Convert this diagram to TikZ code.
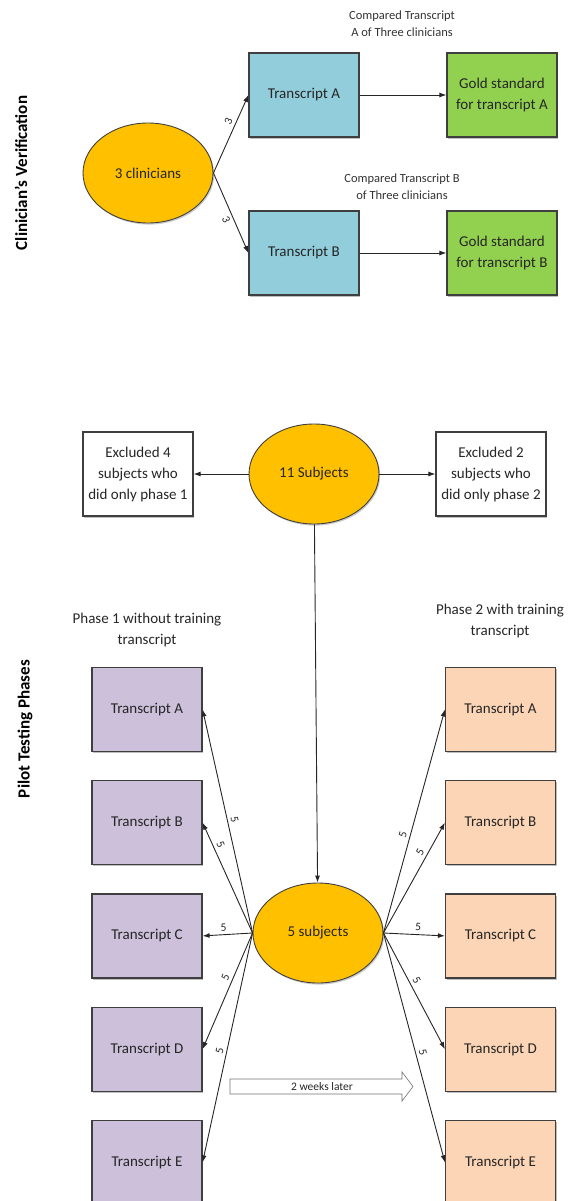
\documentclass[tikz,border=0pt]{standalone}
\usepackage{fontspec}
\setmainfont{Carlito}
\usetikzlibrary{arrows.meta,positioning,shapes.geometric,shadows}
\definecolor{clinGold}{HTML}{FFC000}
\definecolor{trBlue}{HTML}{92CDDC}
\definecolor{goldGreen}{HTML}{92D050}
\definecolor{phOneLilac}{HTML}{CCC0DA}
\definecolor{phTwoPeach}{HTML}{FBD5B5}
\definecolor{edgeGray}{HTML}{3F3F3F}
\definecolor{txtGray}{HTML}{262626}

\begin{document}
\begin{tikzpicture}[x=1pt,y=-1pt,node distance=28pt,
  every node/.style={font=\fontsize{15}{21}\selectfont,text=txtGray},
  box/.style={draw=edgeGray,line width=1.2pt,minimum width=110pt,minimum height=84pt,align=center,inner sep=2pt,
    drop shadow={shadow xshift=1.2pt,shadow yshift=-1.6pt,fill=black,opacity=0.25}},
  blob/.style={ellipse,draw=edgeGray,line width=0.9pt,fill=clinGold,minimum width=130pt,minimum height=100pt,inner sep=0pt,
    drop shadow={shadow xshift=1.2pt,shadow yshift=-1.6pt,fill=black,opacity=0.2}},
  link/.style={-{Latex[length=7pt,width=5pt]},line width=0.9pt,draw=black!85},
  cnt/.style={font=\fontsize{11.5}{12}\selectfont,sloped,above,inner sep=3pt},
  note/.style={font=\fontsize{12.5}{17}\selectfont,align=center,text=black!80},
  phase/.style={align=center},
  side/.style={font=\fontsize{17}{20}\selectfont\bfseries,rotate=90,text=black}]
\useasboundingbox (0,0) rectangle (569,1201);
% clinicians' verification
\node[side] (verif) at (21,173) {Clinician’s Verification};
\node[blob] (clin) at (148,173) {3 clinicians};
\node[box,fill=trBlue] (trA) at (304,95) {Transcript A};
\node[box,fill=trBlue] (trB) at (304,253) {Transcript B};
\node[box,fill=goldGreen] (goldA) at (502,95) {Gold standard\\for transcript A};
\node[box,fill=goldGreen] (goldB) at (502,253) {Gold standard\\for transcript B};
\node[note] (cmpA) at (402,24) {Compared Transcript\\A of Three clinicians};
\node[note] (cmpB) at (402,187) {Compared Transcript B\\of Three clinicians};
\draw[link] (clin.east) -- node[cnt,pos=0.62]{3} (trA.west);
\draw[link] (clin.east) -- node[cnt,below,pos=0.55]{3} (trB.west);
\foreach \x/\y in {trA/goldA,trB/goldB}{\draw[link] (\x)--(\y);}
% pilot testing phases
\node[side] (pilot) at (25,729) {Pilot Testing Phases};
\node[blob] (all) at (314,474) {11 Subjects};
\node[box,fill=white] (exOne) at (138,474) {Excluded 4\\subjects who\\did only phase 1};
\node[box,fill=white] (exTwo) at (491,474) {Excluded 2\\subjects who\\did only phase 2};
\node[blob] (five) at (318,933) {5 subjects};
\foreach \y in {exOne,exTwo,five}{\draw[link] (all)--(\y);}
\node[phase] (phOne) at (147,630) {Phase 1 without training\\transcript};
\node[phase] (phTwo) at (500,621) {Phase 2 with training\\transcript};
\node[box,fill=phOneLilac] (pA) at (147,709.5) {Transcript A};
\node[box,fill=phOneLilac,below=of pA] (pB) {Transcript B};
\node[box,fill=phOneLilac,below=of pB] (pC) {Transcript C};
\node[box,fill=phOneLilac,below=of pC] (pD) {Transcript D};
\node[box,fill=phOneLilac,below=of pD] (pE) {Transcript E};
\node[box,fill=phTwoPeach] (qA) at (500.5,709.5) {Transcript A};
\node[box,fill=phTwoPeach,below=of qA] (qB) {Transcript B};
\node[box,fill=phTwoPeach,below=of qB] (qC) {Transcript C};
\node[box,fill=phTwoPeach,below=of qC] (qD) {Transcript D};
\node[box,fill=phTwoPeach,below=of qD] (qE) {Transcript E};
\foreach \y/\p in {pA/0.5,pB/0.77,pC/0.57,pD/0.41,pE/0.52}{\draw[link] (five.west) -- node[cnt,pos=\p]{5} (\y.east);}
\foreach \y/\p in {qA/0.43,qB/0.7,qC/0.56,qD/0.44,qE/0.53}{\draw[link] (five.east) -- node[cnt,pos=\p]{5} (\y.west);}
% 2 weeks block arrow
\draw[draw=black!55,fill=white,line width=0.6pt] (230,1079) -- (402,1079) -- (402,1072) -- (413,1086.5)
  -- (402,1101) -- (402,1094) -- (230,1094) -- cycle;
\node[font=\fontsize{11.5}{12}\selectfont] (lag) at (322,1086.5) {2 weeks later};
\end{tikzpicture}
\end{document}
